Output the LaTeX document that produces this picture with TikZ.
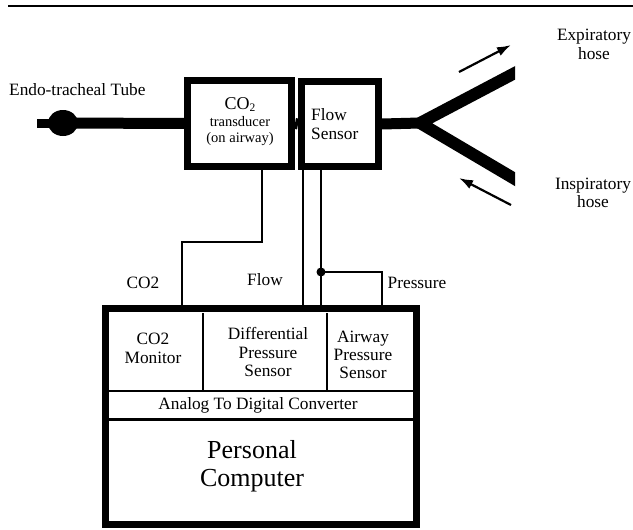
\documentclass[tikz,border=0pt]{standalone}
\usepackage{fontspec}
\setmainfont{Liberation Serif}
\usetikzlibrary{calc,positioning,arrows.meta,shapes.geometric}
\tikzset{
  tube/.style={line width=11pt},
  wire/.style={line width=1.9pt},
  thickbox/.style={draw, line width=7pt, fill=white, inner sep=0pt},
  lbl/.style={font=\fontsize{17.3}{19}\selectfont, align=center, inner sep=0pt},
  flowarr/.style={line width=2.2pt, -{Latex[length=14pt,width=9.5pt]}},
  pdot/.style={circle, fill=black, inner sep=0pt, minimum size=9pt},
}

\begin{document}
\begin{tikzpicture}[x=1pt,y=-1pt]
  \useasboundingbox (0,0) rectangle (633,530);
  \draw[line width=2pt] (8,6) -- (633,6);

  % airway: tube, transducer, flow sensor, Y piece
  \node[thickbox, minimum width=104pt, minimum height=86pt] (co2tr) at (239.5,123.5) {};
  \node[thickbox, minimum width=77pt, minimum height=85pt] (flowsens) at (340,124) {};
  \node[ellipse, fill=black, minimum width=30pt, minimum height=26pt, inner sep=0pt] (bulb) at (63,123) {};
  \draw[line width=9pt] (bulb.center) -- ++(-26,0);
  \draw[tube] (bulb.center) -- (co2tr.west);
  \draw[tube] (co2tr.east) -- (flowsens.west);
  \coordinate (yj) at (420,123);
  \draw[tube] (flowsens.east) -- (yj);
  \begin{scope}
    \clip (0,0) rectangle (515,530);
    \draw[line width=12pt, line join=miter] (530,65) -- (yj) -- (530,188);
  \end{scope}

  \node[lbl, font=\fontsize{14.5}{16}\selectfont] (co2trtxt) at (240,122)
    {{\fontsize{18}{18}\selectfont CO\raisebox{-1.5pt}{\fontsize{11.5}{11.5}\selectfont 2}}\\[1pt]
     transducer\\(on airway)};
  \node[lbl, align=left, anchor=west] (flowtxt) at (311,124) {Flow\\Sensor};
  \node[lbl, anchor=west] (ettlbl) at (9,90) {Endo-tracheal Tube};

  % hoses
  \coordinate (expA) at (459,72);
  \coordinate (expB) at (511,45);
  \coordinate (insA) at (511,205);
  \coordinate (insB) at (459,178);
  \draw[flowarr] (expA) -- (expB);
  \draw[flowarr] (insA) -- (insB);
  \node[lbl] (exphose) at (594,44) {Expiratory\\hose};
  \node[lbl, font=\fontsize{17.3}{17.5}\selectfont] (inshose) at (593,193) {Inspiratory\\hose};

  % instrument unit
  \node[thickbox, minimum width=311pt, minimum height=216pt] (unit) at (261,416.5) {};
  \draw[line width=2.5pt] (203,313) -- (203,391);
  \draw[line width=2.5pt] (327,313) -- (327,391);
  \draw[line width=2pt] (unit.west |- 0,391) -- (unit.east |- 0,391);
  \draw[line width=3pt] (unit.west |- 0,419) -- (unit.east |- 0,419);
  \node[lbl] (co2mon) at (153,348) {CO2\\Monitor};
  \node[lbl, font=\fontsize{17.3}{18.5}\selectfont] (diffp) at (268,352) {Differential\\Pressure\\Sensor};
  \node[lbl, font=\fontsize{17.3}{18}\selectfont] (airp) at (363,355) {Airway\\Pressure\\Sensor};
  \node[lbl] (adc) at (258,405) {Analog To Digital Converter};
  \node[lbl, font=\fontsize{26}{28}\selectfont] (pc) at (252,466) {Personal\\Computer};

  % signal lines
  \coordinate (co2bend) at (182,242);
  \draw[wire] ([xshift=22.5pt]co2tr.south) |- (co2bend) -- (co2bend |- unit.north);
  \draw[wire] ([xshift=-37pt]flowsens.south) -- ([xshift=-37pt]flowsens.south |- unit.north);
  \draw[wire] ([xshift=-19pt]flowsens.south) -- ([xshift=-19pt]flowsens.south |- unit.north);
  \node[pdot] (pjoint) at (321,272) {};
  \draw[wire] (pjoint.center) -| ([xshift=121pt]unit.north);
  \node[lbl] (co2lbl) at (143,283) {CO2};
  \node[lbl] (flowlbl) at (265,280) {Flow};
  \node[lbl] (preslbl) at (417,283) {Pressure};
\end{tikzpicture}
\end{document}
